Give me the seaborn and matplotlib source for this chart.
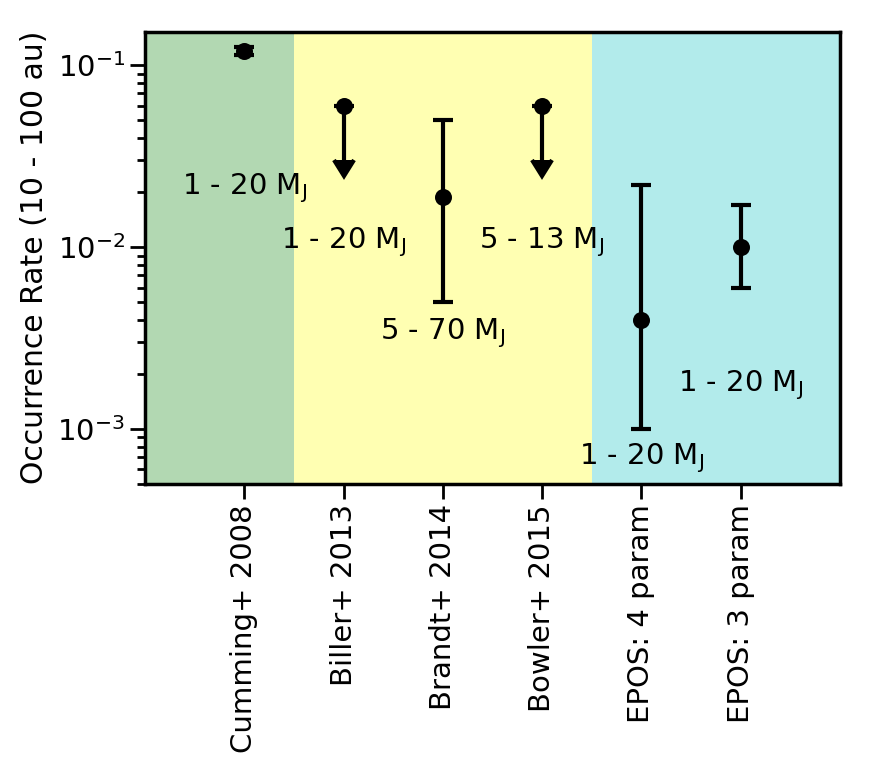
import numpy as np
import pandas as pd
import seaborn as sns
import matplotlib
matplotlib.use("Agg")
import matplotlib.pyplot as plt

# Surveys and occurrence rates (10 - 100 au)
surveys = ['Cumming+ 2008', 'Biller+ 2013', 'Brandt+ 2014',
           'Bowler+ 2015', 'EPOS: 4 param', 'EPOS: 3 param']
rate = [0.12, 0.06, 0.019, 0.06, 0.004, 0.01]
rate_low = [0.114, 0.03, 0.005, 0.03, 0.001, 0.006]
rate_high = [0.126, 0.06, 0.05, 0.06, 0.022, 0.017]
upper_limit = [False, True, False, True, False, False]
mass_range = ['1 - 20 M$_\\mathrm{J}$', '1 - 20 M$_\\mathrm{J}$', '5 - 70 M$_\\mathrm{J}$',
              '5 - 13 M$_\\mathrm{J}$', '1 - 20 M$_\\mathrm{J}$', '1 - 20 M$_\\mathrm{J}$']
label_y = [0.0212, 0.0107, 0.00338, 0.0107, 0.00069, 0.00174]

df = pd.DataFrame({'survey': surveys, 'rate': rate,
                   'low': rate_low, 'high': rate_high, 'uplim': upper_limit})
df['x'] = np.arange(len(df))

sns.set_style('ticks')
plt.rcParams['font.family'] = ['DejaVu Sans']
plt.rcParams['mathtext.default'] = 'regular'
plt.rcParams['text.color'] = 'k'
plt.rcParams['axes.labelcolor'] = 'k'
plt.rcParams['xtick.color'] = 'k'
plt.rcParams['ytick.color'] = 'k'

fig = plt.figure(figsize=(8.74, 7.73), dpi=100)
ax = fig.add_axes([0.166, 0.374, 0.795, 0.585])

# Background regions
ax.axvspan(-1, 0.5, color='g', alpha=0.3, lw=0)
ax.axvspan(0.5, 3.5, color='yellow', alpha=0.3, lw=0)
ax.axvspan(3.5, 6, color='c', alpha=0.3, lw=0)

# Points
sns.scatterplot(data=df, x='x', y='rate', ax=ax, color='k', s=150,
                edgecolor='k', linewidth=0, zorder=5, legend=False)

# Error bars and upper limits
for _, r in df.iterrows():
    if r['uplim']:
        ax.errorbar(r['x'], r['rate'], yerr=r['rate'] - r['low'], uplims=True,
                    fmt='none', ecolor='k', color='k', elinewidth=3,
                    capsize=7.5, capthick=3)
    else:
        ax.errorbar(r['x'], r['rate'],
                    yerr=[[r['rate'] - r['low']], [r['high'] - r['rate']]],
                    fmt='none', ecolor='k', color='k', elinewidth=3,
                    capsize=7.5, capthick=3)

for xi, (txt, ty) in enumerate(zip(mass_range, label_y)):
    ax.text(xi, ty, txt, ha='center', va='center', fontsize=21, color='k')

ax.set_yscale('log')
ax.set_ylim(5e-4, 0.153)
ax.set_xlim(-1, 6)
ax.set_xticks(df['x'])
ax.set_xticklabels(surveys, rotation=90, fontsize=21)
ax.set_xlabel('')
ax.set_ylabel('Occurrence Rate (10 - 100 au)', fontsize=21.5, labelpad=6)
ax.tick_params(axis='y', which='major', labelsize=21, length=11, width=2, direction='out')
ax.tick_params(axis='y', which='minor', length=6, width=2, direction='out')
ax.tick_params(axis='x', which='major', length=11, width=2, direction='out')
ax.tick_params(axis='x', which='minor', bottom=False)
for s in ax.spines.values():
    s.set_linewidth(2.5)
    s.set_color('k')
    s.set_visible(True)

fig.savefig('out.png', dpi=100)
